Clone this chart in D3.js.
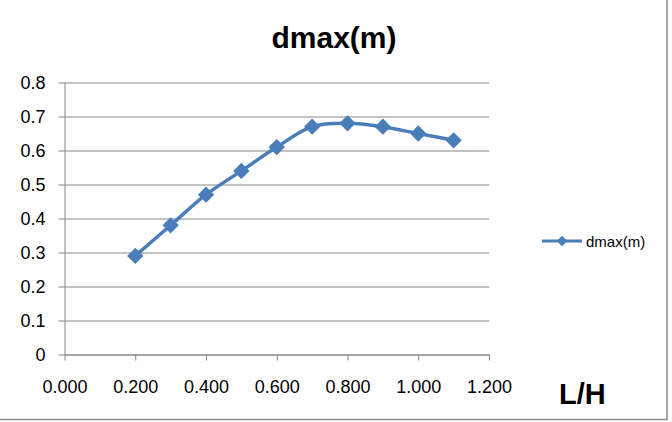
<!DOCTYPE html>
<html>
<head>
<meta charset="utf-8">
<script src="https://cdn.jsdelivr.net/npm/d3@7"></script>
<style>
  body { margin: 0; background: #fff; }
  svg { display: block; font-family: "Liberation Sans", Arial, sans-serif; }
</style>
</head>
<body>
<div id="chart"></div>
<script>
// L/H ratio vs max depth
const ratios = [0.2, 0.3, 0.4, 0.5, 0.6, 0.7, 0.8, 0.9, 1.0, 1.1];
const dmax = [0.29, 0.38, 0.47, 0.54, 0.61, 0.67, 0.68, 0.67, 0.65, 0.63];
const xTicks = [0, 0.2, 0.4, 0.6, 0.8, 1.0, 1.2];
const yTicks = [0, 0.1, 0.2, 0.3, 0.4, 0.5, 0.6, 0.7, 0.8];
const seriesName = "dmax(m)";

const width = 672, height = 422;
const plotLeft = 64.5, plotRight = 489, plotTop = 82.5, plotBottom = 354.5;
const blue = "#4a7ebb", grey = "#868686";

const svg = d3.select("#chart").append("svg")
    .attr("width", width)
    .attr("height", height);

// outer frame
svg.append("rect")
    .attr("x", -1).attr("y", -1)
    .attr("width", 668).attr("height", 420.5)
    .attr("fill", "none")
    .attr("stroke", "#8c8c8c")
    .attr("stroke-width", 1.5);

const x = d3.scaleLinear().domain([0, 1.2]).range([plotLeft, plotRight]);
const y = d3.scaleLinear().domain([0, 0.8]).range([plotBottom, plotTop]);

// horizontal gridlines + y ticks
svg.append("g")
    .attr("transform", `translate(${plotLeft},0)`)
    .call(d3.axisLeft(y).tickValues(yTicks).tickSize(-(plotRight - plotLeft)).tickSizeOuter(0)
        .tickFormat(d => d === 0 ? "0" : d3.format(".1f")(d)))
    .call(g => g.select(".domain").attr("stroke", grey))
    .call(g => g.selectAll(".tick line").attr("stroke", grey).attr("x1", -6))
    .call(g => g.selectAll(".tick text").attr("font-size", 18).attr("fill", "#000")
        .attr("font-family", "Liberation Sans, Arial, sans-serif").attr("x", -19));

// x axis
svg.append("g")
    .attr("transform", `translate(0,${plotBottom})`)
    .call(d3.axisBottom(x).tickValues(xTicks).tickSize(6).tickSizeOuter(0)
        .tickFormat(d3.format(".3f")).tickPadding(20))
    .call(g => g.select(".domain").attr("stroke", grey))
    .call(g => g.selectAll(".tick line").attr("stroke", grey))
    .call(g => g.selectAll(".tick text").attr("font-size", 18).attr("fill", "#000")
        .attr("font-family", "Liberation Sans, Arial, sans-serif"));

const points = ratios.map((r, i) => [r, dmax[i]]);

svg.append("path")
    .datum(points)
    .attr("fill", "none")
    .attr("stroke", blue)
    .attr("stroke-width", 3.5)
    .attr("stroke-linejoin", "round")
    .attr("d", d3.line().x(d => x(d[0])).y(d => y(d[1])).curve(d3.curveCatmullRom.alpha(0.5)));

const diamond = d3.symbol().type(d3.symbolDiamond2).size(170);
svg.append("g")
  .selectAll("path")
  .data(points)
  .join("path")
    .attr("transform", d => `translate(${x(d[0])},${y(d[1])})`)
    .attr("d", diamond)
    .attr("fill", blue);

// title
svg.append("text")
    .attr("x", 334).attr("y", 48)
    .attr("text-anchor", "middle")
    .attr("font-size", 30)
    .attr("font-weight", "bold")
    .text(seriesName);

// axis label
svg.append("text")
    .attr("x", 559).attr("y", 404)
    .attr("font-size", 29)
    .attr("font-weight", "bold")
    .text("L/H");

// legend
const lg = svg.append("g").attr("transform", "translate(542,241)");
lg.append("line").attr("x1", 0).attr("x2", 40)
    .attr("stroke", blue).attr("stroke-width", 3);
lg.append("path").attr("transform", "translate(20,0)")
    .attr("d", d3.symbol().type(d3.symbolDiamond2).size(70)).attr("fill", blue);
lg.append("text").attr("x", 44).attr("y", 5.5)
    .attr("font-size", 15)
    .text(seriesName);
</script>
</body>
</html>
